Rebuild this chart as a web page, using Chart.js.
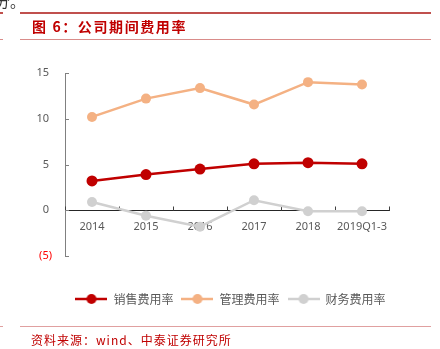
<!DOCTYPE html>
<html>
<head>
<meta charset="utf-8">
<script src="https://cdn.jsdelivr.net/npm/chart.js@4"></script>
<style>
  body { margin: 0; background: #fff; }
  #wrap { position: relative; width: 440px; height: 349px; overflow: hidden; font-family: "Noto Sans CJK SC", sans-serif; }
  #chart { position: absolute; left: 0; top: 0; }
  .txt { position: absolute; white-space: nowrap; z-index: 2; }
  .rule { position: absolute; z-index: 2; }
</style>
</head>
<body>
<div id="wrap">
  <canvas id="chart" width="440" height="349"></canvas>
  <div class="txt" style="left:-5px; top:-10px; font-size:15px; color:#333;">分。</div>
  <div class="rule" style="left:0; top:12px; width:3px; height:2px; background:#c0504d;"></div>
  <div class="rule" style="left:20px; top:12px; width:411px; height:2px; background:#c0504d;"></div>
  <div class="txt" style="left:32px; top:17px; font-size:14px; font-weight:bold; color:#c00000; letter-spacing:1.6px; line-height:18px;">图 6：公司期间费用率</div>
  <div class="rule" style="left:0; top:39px; width:3px; height:1px; background:#d98c8a;"></div>
  <div class="rule" style="left:20px; top:39px; width:411px; height:1px; background:#d98c8a;"></div>
  <div class="rule" style="left:0; top:326px; width:3px; height:1px; background:#e0a0a0;"></div>
  <div class="rule" style="left:20px; top:326px; width:411px; height:1px; background:#e0a0a0;"></div>
  <div class="txt" style="left:31px; top:332px; font-size:12px; color:#c00000; letter-spacing:1px; line-height:16px;">资料来源：wind、中泰证券研究所</div>
</div>
<script>
// 公司期间费用率 (%)
const categories = ['2014', '2015', '2016', '2017', '2018', '2019Q1-3'];
const seriesNames = ['销售费用率', '管理费用率', '财务费用率'];
const salesRate = [3.2, 3.9, 4.5, 5.07, 5.2, 5.07];
const adminRate = [10.2, 12.2, 13.35, 11.55, 14.0, 13.75];
const financeRate = [0.9, -0.6, -1.8, 1.1, -0.1, -0.1];
const seriesColors = ['#c00000', '#f4b183', '#d0d0d0'];
const yTicks = [-5, 0, 5, 10, 15];

// petit marqueur de légende : trait + point
function makeMarker(color) {
  const c = document.createElement('canvas');
  c.width = 32; c.height = 12;
  const g = c.getContext('2d');
  g.strokeStyle = color; g.lineWidth = 2.5;
  g.beginPath(); g.moveTo(0, 6); g.lineTo(32, 6); g.stroke();
  g.fillStyle = color;
  g.beginPath(); g.arc(16, 6, 5, 0, Math.PI * 2); g.fill();
  return c;
}
const markers = seriesColors.map(makeMarker);

// petites graduations tournées vers l'intérieur
const tickMarks = {
  id: 'tickMarks',
  beforeDatasetsDraw(chart) {
    const { ctx, scales: { x, y } } = chart;
    ctx.save();
    ctx.lineWidth = 1;
    ctx.strokeStyle = '#404040';
    const y0 = Math.round(y.getPixelForValue(0)) + 0.5;
    for (let i = 0; i <= categories.length; i++) {
      const px = Math.round(x.getPixelForValue(i - 0.5)) + 0.5;
      ctx.beginPath(); ctx.moveTo(px, y0); ctx.lineTo(px, y0 - 4); ctx.stroke();
    }
    ctx.strokeStyle = '#808080';
    yTicks.forEach(v => {
      const py = Math.round(y.getPixelForValue(v)) + 0.5;
      ctx.beginPath(); ctx.moveTo(y.right, py); ctx.lineTo(y.right + 4, py); ctx.stroke();
    });
    ctx.restore();
  }
};

const datasets = [salesRate, adminRate, financeRate].map((d, i) => ({
  label: seriesNames[i],
  data: d,
  borderColor: seriesColors[i],
  backgroundColor: seriesColors[i],
  borderWidth: 2.5,
  pointRadius: i === 0 ? 5.5 : 5,
  pointHoverRadius: 5,
  pointBorderWidth: 0,
  tension: 0
}));

new Chart(document.getElementById('chart'), {
  type: 'line',
  data: { labels: categories, datasets: datasets },
  plugins: [tickMarks],
  options: {
    responsive: false,
    animation: false,
    layout: { padding: { top: 73, left: 21, right: 0, bottom: 34 } },
    scales: {
      x: {
        position: { y: 0 },
        offset: true,
        grid: { display: false, drawTicks: false },
        border: { display: true, color: '#262626', width: 1 },
        ticks: {
          padding: 10, maxRotation: 0, minRotation: 0, autoSkip: false,
          color: '#595959', font: { family: 'Noto Sans', size: 11 }
        }
      },
      y: {
        min: -5, max: 15,
        afterFit: s => { s.width = 44; },
        afterBuildTicks: s => { s.ticks = yTicks.map(v => ({ value: v })); },
        grid: { display: false, drawTicks: false },
        border: { display: true, color: '#808080', width: 1 },
        ticks: {
          padding: 13,
          font: { family: 'Noto Sans', size: 11 },
          color: c => (c.tick && c.tick.value < 0 ? '#ff0000' : '#595959'),
          callback: v => (v < 0 ? '(' + Math.abs(v) + ')' : v + ' ')
        }
      },
      y2: {
        position: 'right',
        afterFit: s => { s.width = 51; },
        grid: { display: false, drawTicks: false },
        border: { display: false },
        ticks: { display: false }
      }
    },
    plugins: {
      tooltip: { enabled: false },
      legend: {
        position: 'bottom',
        title: { display: true, text: ' ', font: { size: 10 }, padding: { top: 17, bottom: 0 } },
        labels: {
          usePointStyle: true,
          pointStyleWidth: 32,
          boxHeight: 12,
          padding: 8,
          color: '#595959',
          font: { family: 'Noto Sans CJK SC', size: 12 },
          generateLabels: chart => Chart.defaults.plugins.legend.labels.generateLabels(chart)
            .map((l, i) => Object.assign(l, { pointStyle: markers[i] }))
        }
      }
    }
  }
});
</script>
</body>
</html>
